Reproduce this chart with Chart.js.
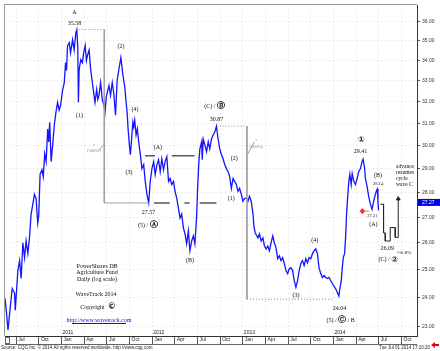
<!DOCTYPE html>
<html>
<head>
<meta charset="utf-8">
<script src="https://cdn.jsdelivr.net/npm/chart.js@4.4.1/dist/chart.umd.min.js"></script>
<style>html,body{margin:0;padding:0;background:#fff}canvas{display:block}</style>
</head>
<body>
<canvas id="dba" width="440" height="351" style="width:440px;height:351px"></canvas>
<script>
// PowerShares DB Agriculture Fund, daily closes (x = decimal year)
const years = [
  2010.376,2010.392,2010.409,2010.434,2010.456,2010.482,2010.489,2010.500,2010.518,2010.537,
  2010.554,2010.573,2010.592,2010.609,2010.628,2010.646,2010.664,2010.683,2010.701,2010.719,
  2010.737,2010.748,2010.763,2010.784,2010.798,2010.814,2010.830,2010.847,2010.858,2010.869,
  2010.885,2010.902,2010.920,2010.938,2010.956,2010.973,2010.989,2011.011,2011.030,2011.044,
  2011.055,2011.066,2011.085,2011.099,2011.121,2011.139,2011.157,2011.168,2011.179,2011.186,
  2011.194,2011.212,2011.230,2011.244,2011.260,2011.274,2011.285,2011.304,2011.321,2011.340,
  2011.358,2011.369,2011.387,2011.400,2011.413,2011.431,2011.449,2011.468,2011.479,2011.493,
  2011.504,2011.523,2011.540,2011.559,2011.577,2011.595,2011.613,2011.632,2011.654,2011.676,
  2011.698,2011.712,2011.723,2011.734,2011.748,2011.759,2011.770,2011.786,2011.796,2011.807,
  2011.822,2011.836,2011.851,2011.869,2011.887,2011.906,2011.923,2011.942,2011.961,2011.978,
  2011.997,2012.016,2012.033,2012.052,2012.070,2012.088,2012.106,2012.125,2012.142,2012.161,
  2012.180,2012.197,2012.216,2012.235,2012.252,2012.271,2012.289,2012.307,2012.325,2012.344,
  2012.362,2012.380,2012.399,2012.416,2012.435,2012.454,2012.471,2012.490,2012.501,2012.515,
  2012.526,2012.545,2012.552,2012.563,2012.581,2012.599,2012.618,2012.635,2012.654,2012.672,
  2012.690,2012.709,2012.727,2012.745,2012.764,2012.782,2012.800,2012.818,2012.837,2012.855,
  2012.873,2012.892,2012.909,2012.928,2012.947,2012.964,2012.983,2013.001,2013.019,2013.037,
  2013.056,2013.073,2013.092,2013.111,2013.122,2013.136,2013.153,2013.166,2013.183,2013.202,
  2013.221,2013.238,2013.257,2013.275,2013.293,2013.311,2013.330,2013.347,2013.366,2013.384,
  2013.402,2013.421,2013.439,2013.457,2013.476,2013.494,2013.512,2013.530,2013.549,2013.566,
  2013.585,2013.604,2013.621,2013.640,2013.658,2013.676,2013.695,2013.713,2013.731,2013.749,
  2013.768,2013.786,2013.804,2013.823,2013.840,2013.859,2013.877,2013.895,2013.914,2013.932,
  2013.950,2013.968,2013.987,2014.005,2014.023,2014.042,2014.059,2014.070,2014.086,2014.097,
  2014.108,2014.122,2014.133,2014.144,2014.158,2014.169,2014.180,2014.195,2014.206,2014.224,
  2014.242,2014.261,2014.278,2014.297,2014.315,2014.326,2014.341,2014.352,2014.370,2014.388,
  2014.407,2014.425,2014.443,2014.461,2014.475,2014.483,2014.490,2014.497
];
const prices = [
  23.96,23.48,22.87,23.65,24.31,24.14,23.55,24.06,24.96,25.33,
  24.67,26.00,25.44,26.07,25.59,26.19,27.12,27.52,27.92,27.76,
  26.77,27.04,28.75,28.95,28.66,29.64,29.30,30.74,30.16,31.05,
  29.30,30.03,30.92,31.51,31.97,31.60,31.83,32.54,32.91,33.89,
  33.50,34.75,34.90,34.39,35.05,34.53,35.41,35.58,34.64,31.97,
  33.55,34.04,33.89,34.39,34.75,33.99,34.24,34.53,33.55,32.91,
  32.30,31.97,32.58,32.11,32.30,32.91,32.11,31.83,31.51,32.20,
  32.44,32.77,32.30,32.91,32.35,31.37,33.01,33.55,34.14,33.30,
  32.68,31.97,31.51,30.74,30.03,29.60,30.16,31.05,30.83,31.14,
  30.47,30.74,30.16,29.60,29.00,29.17,28.46,27.92,27.57,28.46,
  29.00,29.30,28.75,29.17,29.38,28.87,29.42,28.95,29.30,29.51,
  28.46,28.58,28.33,28.46,28.04,27.76,27.36,26.96,27.12,26.58,
  26.34,25.96,26.46,25.70,26.07,26.27,25.96,27.04,28.17,29.30,
  29.85,30.16,29.38,30.29,30.03,29.73,30.16,29.85,30.29,30.47,
  30.60,30.87,30.29,29.85,29.60,29.42,29.17,29.00,28.87,28.66,
  28.17,28.58,28.46,28.33,28.04,28.17,27.92,27.64,27.76,27.76,
  27.64,27.84,27.64,27.16,26.65,26.38,26.27,26.19,26.34,26.07,
  26.19,25.88,25.77,25.88,25.70,26.00,26.27,26.00,25.81,25.40,
  25.51,25.33,25.44,25.22,24.96,24.85,25.03,25.07,24.96,24.60,
  24.35,24.60,24.96,25.22,25.33,25.14,25.40,25.25,25.44,25.40,
  25.59,25.70,25.77,25.59,25.07,24.85,24.71,24.78,24.71,24.67,
  24.71,24.60,24.49,24.39,24.31,24.17,24.04,24.31,24.60,25.07,
  25.44,25.59,26.19,27.12,27.92,28.46,28.75,28.33,28.79,28.46,
  28.33,28.58,28.87,29.00,29.30,29.41,29.08,28.58,28.25,27.84,
  27.52,27.31,27.64,27.92,28.08,28.14,27.64,27.27
];
const lastPrice = 27.27;

// projected path for wave (C) / 2 then the advance
const projYears  = [2014.516,2014.552,2014.552,2014.571,2014.571,2014.626,2014.626,2014.681,2014.681,2014.714,2014.714];
const projPrices = [27.52,27.52,26.38,26.38,26.07,26.07,26.59,26.59,26.21,26.21,27.74];

// axis ticks
const quarterTicks = [2010.5,2010.75,2011,2011.25,2011.5,2011.75,2012,2012.25,2012.5,2012.75,2013,2013.25,2013.5,2013.75,2014,2014.25,2014.5,2014.75];
const quarterLabels = ['Jul','Oct','Jan','Apr','Jul','Oct','Jan','Apr','Jul','Oct','Jan','Apr','Jul','Oct','Jan','Apr','Jul','Oct'];
const yearTicks = [2011, 2012, 2013, 2014];
const priceTicks = [23,24,25,26,27,28,29,30,31,32,33,34,35,36];

// bracket / range lines, each a list of [year, price] polylines
const dottedLines = [
  [[2011.164,35.58],[2011.471,35.58]],
  [[2012.742,30.87],[2013.045,30.87]],
  [[2013.045,23.93],[2014.005,23.93]]
];
const solidLines = [
  [[2011.471,35.58],[2011.471,27.57],[2011.965,27.57]],
  [[2013.045,30.87],[2013.045,23.93]],
  [[2011.413,29.80],[2011.474,30.08]],
  [[2013.056,29.64],[2013.125,30.16]],
  [[2014.341,27.24],[2014.395,27.24]]
];
const rangeLines = [
  [[2011.920,29.55],[2012.030,29.55]],
  [[2012.216,29.55],[2012.468,29.55]],
  [[2012.019,27.57],[2012.194,27.57]],
  [[2012.355,27.57],[2012.413,27.57]],
  [[2012.523,27.57],[2012.709,27.57]]
];
const stopMark = [2014.319, 27.24];

// wave count labels: [year, price, text, size]
const waveLabels = [
  [2011.143,36.51,'A',6],
  [2011.143,35.93,'35.58',6],
  [2011.197,31.37,'(1)',6],
  [2011.657,34.70,'(2)',6],
  [2011.745,28.83,'(3)',6],
  [2011.811,31.64,'(4)',6],
  [2011.958,27.20,'27.57',6],
  [2011.953,26.69,'(5) / Ⓐ',6],
  [2012.063,29.90,'(A)',6],
  [2012.418,25.33,'(B)',6],
  [2012.687,31.78,'(C) / Ⓑ',6],
  [2012.709,31.18,'30.87',6],
  [2012.873,27.76,'(1)',6],
  [2012.906,29.42,'(2)',6],
  [2013.585,24.06,'(3)',6],
  [2013.793,26.11,'(4)',6],
  [2014.067,23.61,'24.04',6],
  [2014.078,23.20,'(5) / Ⓒ / B',6],
  [2014.308,30.25,'①',6],
  [2014.297,29.73,'29.41',6],
  [2014.491,28.71,'(B)',6],
  [2014.491,28.37,'28.14',4.5],
  [2014.428,27.04,'27.31',4.5],
  [2014.440,26.73,'(A)',6],
  [2014.593,25.77,'26.09',6],
  [2014.604,25.37,'(C) / ②',6],
  [2014.779,25.62,'≈-6.8%',5]
];
const pctLabels = [
  [2011.358,29.98,'*'],[2011.358,29.78,'(100%)'],
  [2013.147,30.20,'*'],[2013.147,29.94,'(100%)']
];
const noteLines = ['advance', 'resumes', 'cycle', 'wave C'];
const infoLines = ['PowerShares DB', 'Agriculture Fund', 'Daily (log scale)'];

function toPoints(xs, ys) { return xs.map((v, i) => ({x: v, y: ys[i]})); }
function joinLines(list) {
  const out = [];
  list.forEach((line, k) => {
    if (k) out.push({x: line[0][0], y: null});
    line.forEach(p => out.push({x: p[0], y: p[1]}));
  });
  return out;
}

// text with enlarged circled symbols
function drawMixed(ctx, str, cx, cy, size, color) {
  const runs = [];
  for (const ch of str) {
    const big = /[\u2460-\u24ff\u00a9]/.test(ch);
    const last = runs[runs.length - 1];
    if (last && last.big === big) last.t += ch; else runs.push({t: ch, big: big});
  }
  const fontOf = r => r.big ? 'bold ' + (size + 2) + 'px "DejaVu Sans"' : size + 'px "Liberation Serif"';
  let w = 0;
  runs.forEach(r => { ctx.font = fontOf(r); r.w = ctx.measureText(r.t).width; w += r.w; });
  let x = cx - w / 2;
  ctx.fillStyle = color;
  ctx.textAlign = 'left';
  ctx.textBaseline = 'middle';
  runs.forEach(r => { ctx.font = fontOf(r); ctx.fillText(r.t, x, cy); x += r.w; });
}

const overlay = {
  id: 'overlay',
  afterDraw(chart) {
    const {ctx, chartArea: a, scales: {x, y}} = chart;
    ctx.save();
    // plot frame
    ctx.strokeStyle = '#9a9a9a';
    ctx.lineWidth = 1;
    ctx.beginPath();
    ctx.moveTo(a.left - 0.5, a.bottom); ctx.lineTo(a.left - 0.5, a.top - 0.5); ctx.lineTo(a.right, a.top - 0.5);
    ctx.stroke();
    ctx.strokeStyle = '#666';
    ctx.beginPath(); ctx.moveTo(a.left, 344.5); ctx.lineTo(a.right, 344.5); ctx.stroke();
    ctx.strokeRect(a.left + 0.5, 337.5, 4, 6);

    waveLabels.forEach(l => drawMixed(ctx, l[2], x.getPixelForValue(l[0]), y.getPixelForValue(l[1]), l[3], '#111'));
    pctLabels.forEach(l => drawMixed(ctx, l[2], x.getPixelForValue(l[0]), y.getPixelForValue(l[1]), 4.5, '#888'));

    // year labels inside the plot
    ctx.font = '5px "Liberation Sans"';
    ctx.fillStyle = '#222';
    ctx.textAlign = 'left';
    ctx.textBaseline = 'bottom';
    yearTicks.forEach(v => ctx.fillText(String(v), x.getPixelForValue(v) + 1, a.bottom - 0.5));

    // info block
    infoLines.forEach((t, i) => drawMixed(ctx, t, 97, 266 + i * 6.5, 6, '#111'));
    drawMixed(ctx, 'WaveTrack 2014', 96, 294, 6, '#111');
    drawMixed(ctx, 'Copyright  \u00a9', 98, 307, 6, '#111');
    drawMixed(ctx, 'http://www.wavetrack.com', 99, 320.5, 6, '#1010ee');
    ctx.strokeStyle = '#1010ee';
    ctx.beginPath(); ctx.moveTo(72, 323.5); ctx.lineTo(126, 323.5); ctx.stroke();

    // projection note
    ctx.font = '5.5px "Liberation Serif"';
    ctx.fillStyle = '#111';
    ctx.textAlign = 'left';
    ctx.textBaseline = 'middle';
    noteLines.forEach((t, i) => ctx.fillText(t, 396, 167 + i * 6));

    // last price box on the axis
    const py = y.getPixelForValue(lastPrice) - 8;
    ctx.fillStyle = '#0000e6';
    ctx.fillRect(a.right + 1, py - 3.5, 440 - a.right - 1, 7);
    ctx.fillStyle = '#fff';
    ctx.font = '5px "Liberation Sans"';
    ctx.fillText(lastPrice.toFixed(2), a.right + 5, py + 0.5);

    // footer
    ctx.fillStyle = '#222';
    ctx.font = '4.5px "Liberation Sans"';
    ctx.textAlign = 'left';
    ctx.fillText('Source: CQG Inc. \u00a9 2014 All rights reserved worldwide. http://www.cqg.com', 1, 348);
    ctx.textAlign = 'right';
    ctx.fillText('Tue Jul 01 2014 17:10:20', 430, 348);
    ctx.fillStyle = '#e00';
    ctx.beginPath();
    ctx.moveTo(431, 345); ctx.lineTo(435, 342); ctx.lineTo(435, 344); ctx.lineTo(439, 344);
    ctx.lineTo(439, 346); ctx.lineTo(435, 346); ctx.lineTo(435, 348); ctx.closePath();
    ctx.fill();
    ctx.restore();
  }
};

Chart.defaults.font.family = '"Liberation Sans", sans-serif';
Chart.defaults.font.size = 5;
Chart.defaults.color = '#222';

new Chart(document.getElementById('dba'), {
  type: 'line',
  data: {
    datasets: [
      {
        data: joinLines(solidLines),
        borderColor: '#a0a0a0',
        borderWidth: 1,
        pointRadius: 0
      },
      {
        data: joinLines(dottedLines),
        borderColor: '#8c8c8c',
        borderWidth: 1,
        borderDash: [1, 2],
        pointRadius: 0
      },
      {
        data: joinLines(rangeLines),
        borderColor: '#5a5a5a',
        borderWidth: 1.6,
        pointRadius: 0
      },
      {
        data: toPoints(years, prices),
        borderColor: '#1414ff',
        borderWidth: 1.3,
        pointRadius: 0,
        tension: 0
      },
      {
        data: toPoints(projYears, projPrices),
        borderColor: '#222',
        borderWidth: 1,
        pointStyle: 'triangle',
        pointRadius: c => c.dataIndex === projYears.length - 1 ? 2.2 : 0,
        backgroundColor: '#222'
      },
      {
        data: [{x: stopMark[0], y: stopMark[1]}],
        showLine: false,
        pointStyle: 'rectRot',
        pointRadius: 2.6,
        backgroundColor: '#ff3030',
        borderColor: '#c00000',
        borderWidth: 0.5
      }
    ]
  },
  options: {
    responsive: false,
    animation: false,
    devicePixelRatio: 1,
    layout: {padding: {left: 2, top: 2, right: 0, bottom: 0}},
    plugins: {legend: {display: false}, tooltip: {enabled: false}},
    scales: {
      x: {
        type: 'linear',
        min: 2010.376,
        max: 2014.921,
        afterBuildTicks: s => { s.ticks = quarterTicks.map(v => ({value: v})); },
        afterFit: s => { s.height = 15; },
        ticks: {
          autoSkip: false,
          maxRotation: 0,
          align: 'start',
          padding: -7,
          labelOffset: 2,
          color: '#222',
          callback: (v, i) => quarterLabels[i]
        },
        grid: {
          color: 'rgba(0,0,0,0.13)',
          tickLength: 8,
          tickColor: '#555',
          tickBorderDash: [],
          tickWidth: 1
        },
        border: {display: true, color: '#333', width: 1, dash: [1, 3]}
      },
      y: {
        type: 'logarithmic',
        position: 'right',
        min: 22.67,
        max: 36.89,
        afterBuildTicks: s => { s.ticks = priceTicks.map(v => ({value: v})); },
        afterFit: s => { s.width = 23; },
        ticks: {
          padding: 2,
          color: '#333',
          callback: v => Number(v).toFixed(2)
        },
        grid: {
          color: 'rgba(0,0,0,0.13)',
          tickLength: 3,
          tickColor: '#555',
          tickBorderDash: []
        },
        border: {display: true, color: '#333', width: 1, dash: [1, 3]}
      }
    }
  },
  plugins: [overlay]
});
</script>
</body>
</html>
